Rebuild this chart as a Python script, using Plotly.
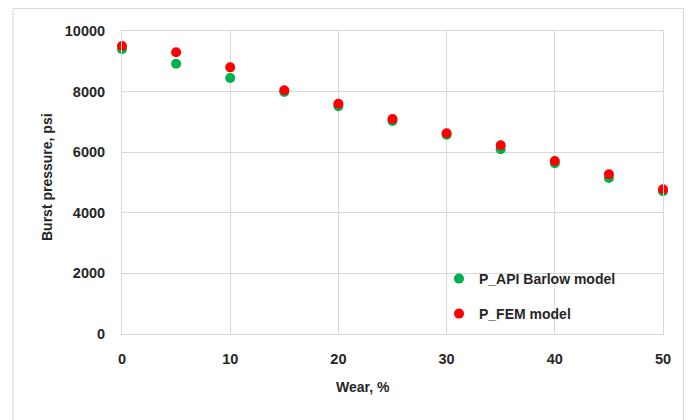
import plotly.graph_objects as go

wear = [0, 5, 10, 15, 20, 25, 30, 35, 40, 45, 50]
p_api = [9396, 8921, 8449, 7987, 7515, 7030, 6578, 6096, 5634, 5149, 4710]
p_fem = [9505, 9297, 8800, 8043, 7601, 7096, 6623, 6227, 5710, 5271, 4776]

W, H = 691, 420
L, R, T, B = 122, 663, 31, 334
pw, ph = R - L, B - T

def px(x):
    return (x - L) / pw

def py(y):
    return (B - y) / ph

FONT = "Liberation Sans"
TXT = "#262626"
GRID = "#d9d9d9"

fig = go.Figure()
fig.add_trace(go.Scatter(
    x=wear, y=p_api, mode="markers", name="P_API Barlow model",
    marker=dict(color="#00B050", size=10), cliponaxis=False, legend="legend"))
fig.add_trace(go.Scatter(
    x=wear, y=p_fem, mode="markers", name="P_FEM model",
    marker=dict(color="#FF0000", size=10), cliponaxis=False, legend="legend2"))

axfont = dict(family=FONT, size=14, color=TXT, weight="bold")
tickfont = dict(family=FONT, size=14.5, color=TXT, weight="bold")

legcommon = dict(font=axfont, bgcolor="rgba(0,0,0,0)", borderwidth=0,
                 xanchor="left", yanchor="middle", itemwidth=30)

fig.update_layout(
    width=W, height=H,
    margin=dict(l=L, r=W - R, t=T, b=H - B),
    paper_bgcolor="white", plot_bgcolor="white",
    showlegend=True,
    legend=dict(x=px(439), y=py(279), **legcommon),
    legend2=dict(x=px(439), y=py(314), **legcommon),
    xaxis=dict(range=[0, 50], dtick=10, tick0=0, showgrid=True, gridcolor=GRID,
               gridwidth=1, showline=True, linecolor=GRID, linewidth=1, mirror=True,
               zeroline=False, ticks="", tickfont=tickfont, ticklabelstandoff=12,
               tickformat="d"),
    yaxis=dict(range=[0, 10000], dtick=2000, tick0=0, showgrid=True, gridcolor=GRID,
               gridwidth=1, showline=True, linecolor=GRID, linewidth=1, mirror=True,
               zeroline=False, ticks="", tickfont=tickfont, ticklabelstandoff=13,
               tickformat="d"),
    annotations=[
        dict(text="Burst pressure, psi", xref="paper", yref="paper",
             x=px(47), y=py(177), showarrow=False, textangle=-90,
             font=axfont, xanchor="center", yanchor="middle"),
        dict(text="Wear, %", xref="paper", yref="paper",
             x=px(363), y=py(387), showarrow=False,
             font=axfont, xanchor="center", yanchor="middle"),
    ],
    shapes=[
        dict(type="rect", xref="paper", yref="paper",
             x0=px(13), x1=px(683.5), y0=py(440), y1=py(8.5),
             line=dict(color=GRID, width=1), fillcolor="rgba(0,0,0,0)", layer="below"),
    ],
)

fig.write_html("out.html")
